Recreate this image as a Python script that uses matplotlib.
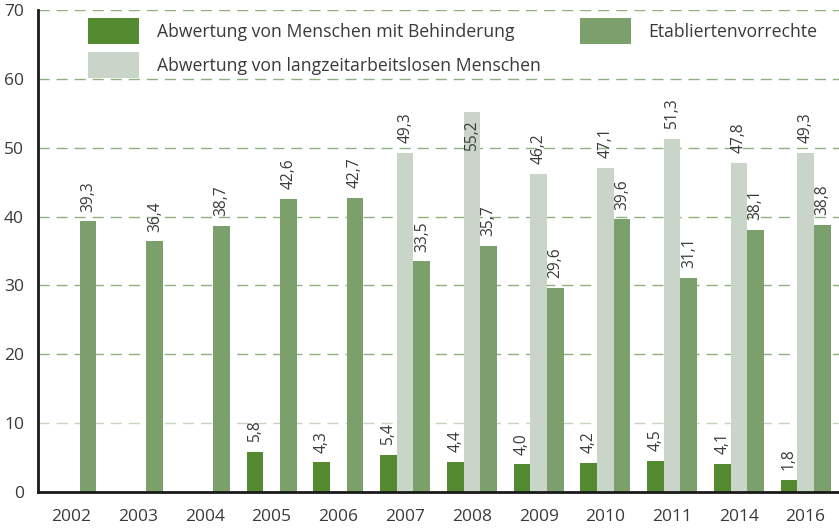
import matplotlib
matplotlib.use("Agg")
import matplotlib.pyplot as plt
import numpy as np

years = ["2002", "2003", "2004", "2005", "2006", "2007", "2008", "2009", "2010", "2011", "2014", "2016"]
behinderung = [None, None, None, 5.8, 4.3, 5.4, 4.4, 4.0, 4.2, 4.5, 4.1, 1.8]
langzeit = [None, None, None, None, None, 49.3, 55.2, 46.2, 47.1, 51.3, 47.8, 49.3]
etabliert = [39.3, 36.4, 38.7, 42.6, 42.7, 33.5, 35.7, 29.6, 39.6, 31.1, 38.1, 38.8]
labels = ["Abwertung von Menschen mit Behinderung",
          "Abwertung von langzeitarbeitslosen Menschen",
          "Etabliertenvorrechte"]

colors = ["#548A2F", "#C8D5C8", "#7CA06C"]
text_color = "#3a3a3a"
plt.rcParams['font.family'] = ['Open Sans', 'DejaVu Sans']

fig = plt.figure(figsize=(8.39, 5.30), dpi=100)
ax = fig.add_axes([38/839, 38/530, 1 - 38/839, (492-10)/530])

x = np.arange(len(years))
w = 0.25
series = [behinderung, langzeit, etabliert]
offsets = [-w, 0, w]

handles = []
for s, off, c, lab in zip(series, offsets, colors, labels):
    xs = [xi + off for xi, v in zip(x, s) if v is not None]
    vs = [v for v in s if v is not None]
    b = ax.bar(xs, vs, width=w, color=c, label=lab, zorder=3, linewidth=0)
    handles.append(b)
    for xi, v in zip(xs, vs):
        ytext = v
        dy = 7
        if v + 8 > 62:
            ytext = 49.5
            dy = 0
        ax.annotate(f"{v:.1f}".replace(".", ","), (xi, ytext), xytext=(0, dy),
                    textcoords="offset points", rotation=90, ha="center", va="bottom",
                    fontsize=11.2, color=text_color, zorder=4)

ax.set_xlim(-0.5, 11.5)
ax.set_ylim(0, 70)
ax.set_xticks(x)
ax.set_xticklabels(years)
ax.set_yticks(np.arange(0, 71, 10))
ax.tick_params(axis="both", length=0, labelsize=12.5, colors=text_color)
ax.tick_params(axis="x", pad=12)
ax.tick_params(axis="y", pad=10)

for yv in range(10, 71, 10):
    gc = "#C5D5BE" if yv == 10 else "#8FB07F"
    ax.axhline(yv, color=gc, linewidth=1, linestyle=(0, (8, 5)), zorder=1)

for sp in ["top", "right"]:
    ax.spines[sp].set_visible(False)
for sp in ["left", "bottom"]:
    ax.spines[sp].set_linewidth(2)
    ax.spines[sp].set_color("#1a1a1a")
    ax.spines[sp].set_zorder(5)

fs = 12.7
leg = ax.legend(handles=handles, labels=labels, ncol=2, loc="upper left",
                bbox_to_anchor=((88-38)/801, (492-18)/482), frameon=False,
                fontsize=fs, handlelength=51/(fs*100/72), handleheight=1.9,
                handletextpad=18/(fs*100/72),
                labelspacing=0.45, columnspacing=2.2, borderpad=0, borderaxespad=0)
for t in leg.get_texts():
    t.set_color(text_color)

fig.savefig("out.png", dpi=100)
